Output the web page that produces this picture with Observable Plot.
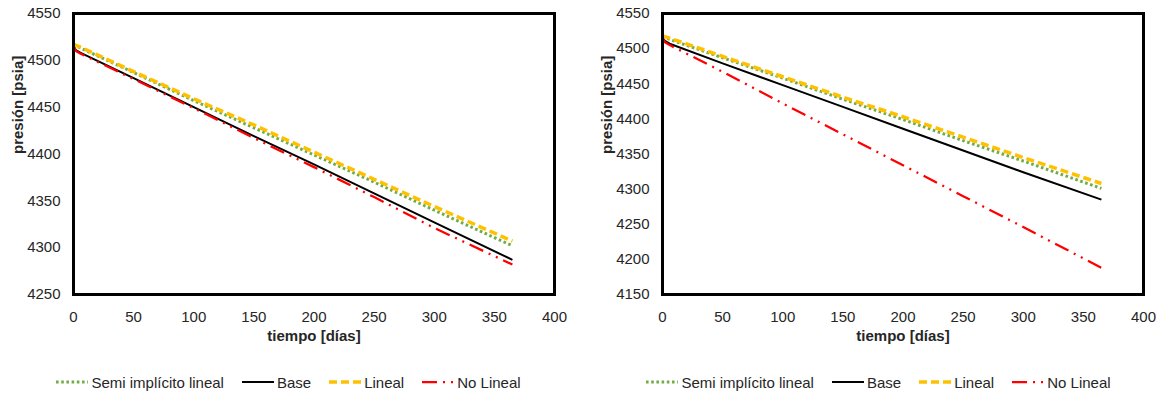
<!DOCTYPE html>
<html>
<head>
<meta charset="utf-8">
<script src="https://cdn.jsdelivr.net/npm/d3@7"></script>
<script src="https://cdn.jsdelivr.net/npm/@observablehq/plot@0.6"></script>
<style>
  html, body { margin: 0; padding: 0; background: #fff; }
  body { width: 1162px; height: 395px; overflow: hidden; font-family: "Liberation Sans", Arial, sans-serif; }
  #wrap { display: flex; flex-direction: row; }
  .panel { display: flex; flex-direction: column; }
  .legend { display: flex; justify-content: center; align-items: center; margin-top: 17px; height: 20px; font-size: 15px; color: #262626; }
  .item { display: flex; align-items: center; margin: 0 9px; white-space: nowrap; }
  .item svg { margin-right: 3px; }
</style>
</head>
<body>
<div id="wrap"></div>
<script>
// ---- data ----
const seriesNames = ["Semi implícito lineal", "Base", "Lineal", "No Lineal"];
const days = [0, 2, 6, 50, 100, 150, 200, 250, 300, 365];

// Left panel
const semiL   = [4517, 4516, 4513, 4487, 4457, 4428, 4399, 4370, 4340, 4302];
const baseL   = [4515, 4511, 4508, 4481, 4450, 4419, 4389, 4358, 4327, 4287];
const linealL = [4517, 4516, 4514, 4488, 4459, 4431, 4402, 4373, 4344, 4307];
const noLinL  = [4515, 4510, 4507, 4480, 4449, 4417, 4386, 4354, 4321, 4282];

// Right panel
const semiR   = [4517, 4516, 4513, 4487, 4458, 4428, 4399, 4369, 4340, 4301];
const baseR   = [4515, 4511, 4507, 4479, 4448, 4417, 4386, 4355, 4324, 4285];
const linealR = [4518, 4517, 4515, 4489, 4460, 4431, 4403, 4374, 4345, 4308];
const noLinR  = [4515, 4509, 4505, 4467, 4422, 4378, 4334, 4290, 4246, 4188];

const xTicks  = [0, 50, 100, 150, 200, 250, 300, 350, 400];
const yTicksL = [4250, 4300, 4350, 4400, 4450, 4500, 4550];
const yTicksR = [4150, 4200, 4250, 4300, 4350, 4400, 4450, 4500, 4550];

const xLabel = "tiempo [días]";
const yLabel = "presión [psia]";

// ---- styles ----
const styles = [
  {color: "#70AD47", width: 3,    dash: "2.6,2.6"},          // Semi implícito lineal
  {color: "#000000", width: 2,    dash: null},               // Base
  {color: "#FFC000", width: 3.5,  dash: "8,4"},              // Lineal
  {color: "#FF0000", width: 2.25, dash: "15,6,2,6,2,6"}      // No Lineal
];
const font = '"Liberation Sans", Arial, sans-serif';

function toRows(arr) { return days.map((t, i) => ({t, p: arr[i]})); }

function makeChart(seriesArrs, yTicks, width, marginRight) {
  const marks = [];
  seriesArrs.forEach((arr, k) => {
    const s = styles[k];
    marks.push(Plot.line(toRows(arr), {
      x: "t", y: "p", stroke: s.color, strokeWidth: s.width,
      strokeDasharray: s.dash || undefined, strokeLinecap: "butt", strokeLinejoin: "round"
    }));
  });
  marks.push(Plot.frame({stroke: "#000", strokeWidth: 3}));
  marks.push(Plot.axisX({ticks: xTicks, tickSize: 0, tickPadding: 17, label: null, tickFormat: d => String(d)}));
  marks.push(Plot.axisY({ticks: yTicks, tickSize: 0, tickPadding: 13, label: null, tickFormat: d => String(d)}));
  marks.push(Plot.text([xLabel], {frameAnchor: "bottom", dy: 46, text: d => d, fontWeight: "bold", fontSize: 15, fill: "#262626"}));
  marks.push(Plot.text([yLabel], {frameAnchor: "left", dx: -55, rotate: -90, text: d => d, fontWeight: "bold", fontSize: 15, fill: "#262626"}));
  return Plot.plot({
    width, height: 355,
    marginLeft: 73, marginRight, marginTop: 13, marginBottom: 61,
    x: {domain: [0, 400]},
    y: {domain: [yTicks[0], yTicks[yTicks.length - 1]]},
    style: {fontFamily: font, fontSize: "15px", color: "#262626", background: "white", overflow: "visible"},
    marks
  });
}

function makeLegend(shiftPx) {
  const div = document.createElement("div");
  div.className = "legend";
  div.style.transform = `translateX(${shiftPx}px)`;
  seriesNames.forEach((name, k) => {
    const s = styles[k];
    const item = document.createElement("div");
    item.className = "item";
    const svg = d3.create("svg").attr("width", 32).attr("height", 10);
    svg.append("line").attr("x1", 0).attr("x2", 32).attr("y1", 5).attr("y2", 5)
      .attr("stroke", s.color).attr("stroke-width", s.width)
      .attr("stroke-dasharray", s.dash || null);
    item.appendChild(svg.node());
    const span = document.createElement("span");
    span.textContent = name;
    item.appendChild(span);
    div.appendChild(item);
  });
  return div;
}

const wrap = document.getElementById("wrap");
const p1 = document.createElement("div"); p1.className = "panel"; p1.style.width = "589px";
p1.appendChild(makeChart([semiL, baseL, linealL, noLinL], yTicksL, 589, 35));
p1.appendChild(makeLegend(-6));
const p2 = document.createElement("div"); p2.className = "panel"; p2.style.width = "573px";
p2.appendChild(makeChart([semiR, baseR, linealR, noLinR], yTicksR, 573, 19));
p2.appendChild(makeLegend(3));
wrap.appendChild(p1);
wrap.appendChild(p2);
</script>
</body>
</html>
